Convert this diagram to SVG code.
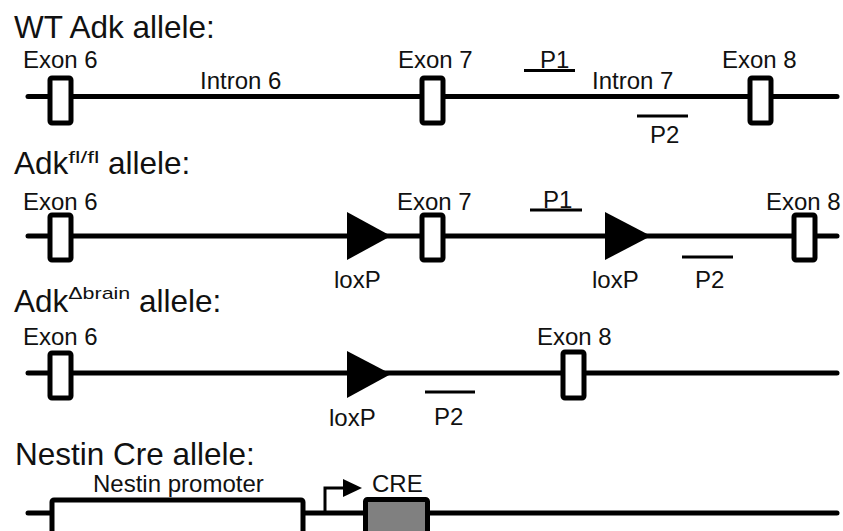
<svg xmlns="http://www.w3.org/2000/svg" width="843" height="531" viewBox="0 0 843 531">
<style>
text{font-family:"Liberation Sans",Arial,sans-serif;fill:#111}
.title{font-size:31.5px}
.sup{font-size:17px}
.lbl{font-size:24px}
.dna{stroke:#000;stroke-width:5;fill:none;stroke-linecap:round}
.exon{fill:#fff;stroke:#000;stroke-width:5}
.probe{stroke:#000;stroke-width:3}
.lox{fill:#000}
</style>
<rect width="843" height="531" fill="#fff"/>
<g id="connectors">
<line class="dna" x1="28" y1="96.5" x2="837" y2="96.5"/>
<line class="dna" x1="28" y1="236" x2="837" y2="236"/>
<line class="dna" x1="28" y1="373" x2="837" y2="373"/>
<line class="dna" x1="28" y1="513" x2="837" y2="513"/>
</g>
<g id="wt">
<text class="title" x="14" y="38">WT Adk allele:</text>
<g id="wt-exon6"><rect class="exon" x="50" y="78" width="21" height="45" rx="2"/><text class="lbl" x="23" y="68">Exon 6</text></g>
<text class="lbl" x="200" y="89">Intron 6</text>
<g id="wt-exon7"><rect class="exon" x="422" y="78" width="21" height="45" rx="2"/><text class="lbl" x="398" y="68">Exon 7</text></g>
<g id="wt-p1"><line class="probe" x1="524" y1="70.5" x2="575" y2="70.5"/><text class="lbl" x="540" y="68">P1</text></g>
<text class="lbl" x="592" y="89">Intron 7</text>
<g id="wt-p2"><line class="probe" x1="637" y1="116" x2="688" y2="116"/><text class="lbl" x="650" y="143">P2</text></g>
<g id="wt-exon8"><rect class="exon" x="750" y="78" width="21" height="45" rx="2"/><text class="lbl" x="722" y="68">Exon 8</text></g>
</g>
<g id="flfl">
<text class="title" x="14" y="174">Adk<tspan class="sup" dy="-11" textLength="31" lengthAdjust="spacingAndGlyphs">fl/fl</tspan><tspan dy="11"> allele:</tspan></text>
<g id="fl-exon6"><rect class="exon" x="50" y="215" width="21" height="45" rx="2"/><text class="lbl" x="23" y="210">Exon 6</text></g>
<g id="fl-lox1"><polygon class="lox" points="347,212 347,260 391,236"/><text class="lbl" x="334" y="288">loxP</text></g>
<g id="fl-exon7"><rect class="exon" x="422" y="215" width="21" height="45" rx="2"/><text class="lbl" x="397" y="210">Exon 7</text></g>
<g id="fl-p1"><line class="probe" x1="530" y1="210" x2="582" y2="210"/><text class="lbl" x="543" y="208">P1</text></g>
<g id="fl-lox2"><polygon class="lox" points="605,212 605,260 651,236"/><text class="lbl" x="592" y="288">loxP</text></g>
<g id="fl-p2"><line class="probe" x1="682" y1="257" x2="733" y2="257"/><text class="lbl" x="695" y="288">P2</text></g>
<g id="fl-exon8"><rect class="exon" x="794" y="215" width="21" height="45" rx="2"/><text class="lbl" x="766" y="210">Exon 8</text></g>
</g>
<g id="brain">
<text class="title" x="14" y="312">Adk<tspan class="sup" dy="-13" textLength="62" lengthAdjust="spacingAndGlyphs">Δbrain</tspan><tspan dy="13"> allele:</tspan></text>
<g id="br-exon6"><rect class="exon" x="50" y="353" width="21" height="45" rx="2"/><text class="lbl" x="23" y="345">Exon 6</text></g>
<g id="br-lox"><polygon class="lox" points="347,351 347,398 391,374"/><text class="lbl" x="329" y="426">loxP</text></g>
<g id="br-p2"><line class="probe" x1="425" y1="392" x2="475" y2="392"/><text class="lbl" x="434" y="425">P2</text></g>
<g id="br-exon8"><rect class="exon" x="563" y="352" width="21" height="46" rx="2"/><text class="lbl" x="537" y="345">Exon 8</text></g>
</g>
<g id="nestin">
<text class="title" x="15" y="465">Nestin Cre allele:</text>
<g id="nes-prom"><rect class="exon" x="52" y="500" width="251" height="45" rx="2"/><text class="lbl" x="93" y="492">Nestin promoter</text></g>
<g id="nes-tss"><polyline points="325,513 325,488 345,488" fill="none" stroke="#000" stroke-width="3"/><polygon points="343,479 343,497 362,488" fill="#000"/></g>
<g id="nes-cre"><rect x="365.5" y="499.5" width="62" height="45" rx="2" fill="#808080" stroke="#000" stroke-width="5"/><text class="lbl" x="372" y="492">CRE</text></g>
</g>
</svg>
